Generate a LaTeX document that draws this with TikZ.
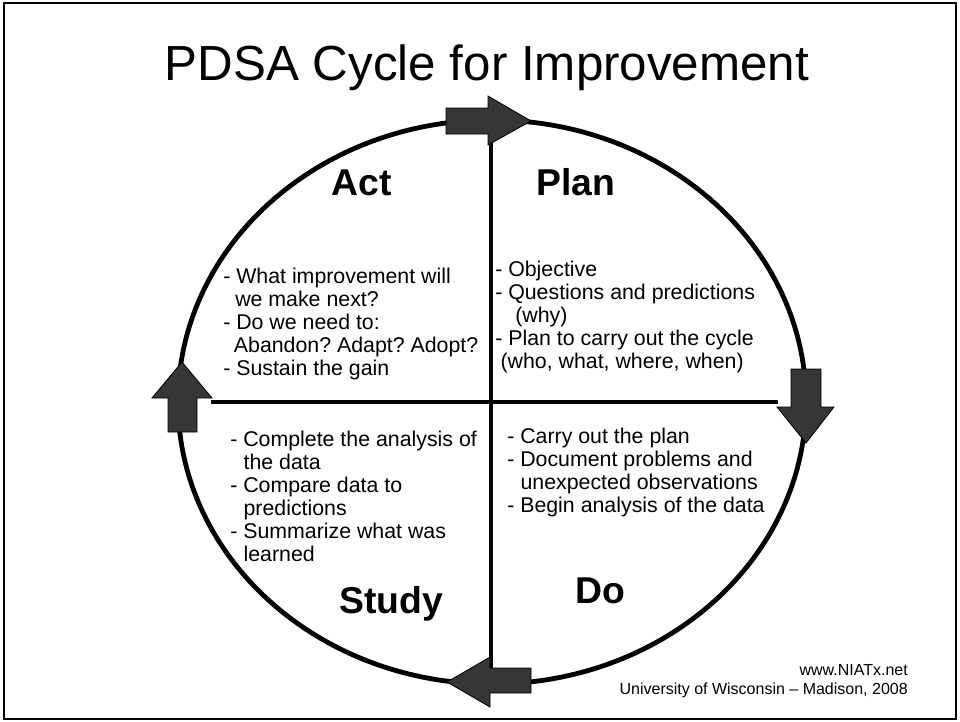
\documentclass[tikz,border=0pt]{standalone}
\usepackage{fontspec}
\setmainfont{Liberation Sans}
\usepackage{xcolor}
\usepackage{tikz}
\usetikzlibrary{positioning}
\definecolor{arrowgray}{HTML}{363636}
\frenchspacing
\tikzset{
	blockarrow/.style={fill=arrowgray, draw=black, line width=0.6pt, line join=miter},
	heading/.style={anchor=base, font=\bfseries\fontsize{28}{32}\selectfont},
	itemlist/.style={anchor=north west, align=left, inner sep=0pt, font=\fontsize{16}{17.25}\selectfont},
	credit/.style={anchor=base east, inner sep=0pt, font=\fontsize{12}{14}\selectfont}
}
\begin{document}
\begin{tikzpicture}[x=0.75pt, y=-0.75pt]
		\useasboundingbox (0,0) rectangle (960,721);
		\draw[line width=2pt] (4,3) rectangle (956,719);

		\node[anchor=base, font=\fontsize{37}{40}\selectfont] (title) at (487,80) {PDSA Cycle for Improvement};

		\draw[line width=3.6pt] (492,402) ellipse [x radius=314, y radius=282];

		\coordinate (vtop) at (491,120);
		\coordinate (vbot) at (491,684);
		\coordinate (hleft) at (211,402);
		\coordinate (hright) at (778,402);
		\draw[line width=2.3pt] (vtop) -- (vbot);
		\draw[line width=2.3pt] (hleft) -- (hright);

		\draw[blockarrow] (446,108) -- (488,108) -- (488,96) -- (531,121) -- (488,145) -- (488,134) -- (446,134) -- cycle;
		\draw[blockarrow] (791,369) -- (821,369) -- (821,407) -- (834,407) -- (806,443) -- (777,407) -- (791,407) -- cycle;
		\draw[blockarrow] (531,668) -- (490,668) -- (490,657) -- (447,682) -- (490,707) -- (490,693) -- (531,693) -- cycle;
		\draw[blockarrow] (168,432) -- (168,398) -- (152,398) -- (182,362) -- (212,398) -- (197,398) -- (197,432) -- cycle;

		\node[heading] (act) at (362,195) {Act};
		\node[heading] (plan) at (576,195) {Plan};
		\node[heading] (study) at (391,613) {Study};
		\node[heading] (do) at (600,603) {Do};

		\node[itemlist] (actlist) at (223,268) {- What improvement will\\\hspace*{9pt}we make next?\\- Do we need to:\\\hspace*{8pt}Abandon? Adapt? Adopt?\\- Sustain the gain};
		\node[itemlist] (planlist) at (495,261) {- Objective\\- Questions and predictions\\\hspace*{15pt}(why)\\- Plan to carry out the cycle\\\hspace*{4pt}(who, what, where, when)};
		\node[itemlist] (studylist) at (230,431) {- Complete the analysis of\\\hspace*{10pt}the data\\- Compare data to\\\hspace*{10pt}predictions\\- Summarize what was\\\hspace*{10pt}learned};
		\node[itemlist] (dolist) at (507,428) {- Carry out the plan\\- Document problems and\\\hspace*{10pt}unexpected observations\\- Begin analysis of the data};

		\node[credit] (web) at (908,675) {www.NIATx.net};
		\node[credit] (uni) at (908,694) {University of Wisconsin -- Madison, 2008};
	\end{tikzpicture}
\end{document}
